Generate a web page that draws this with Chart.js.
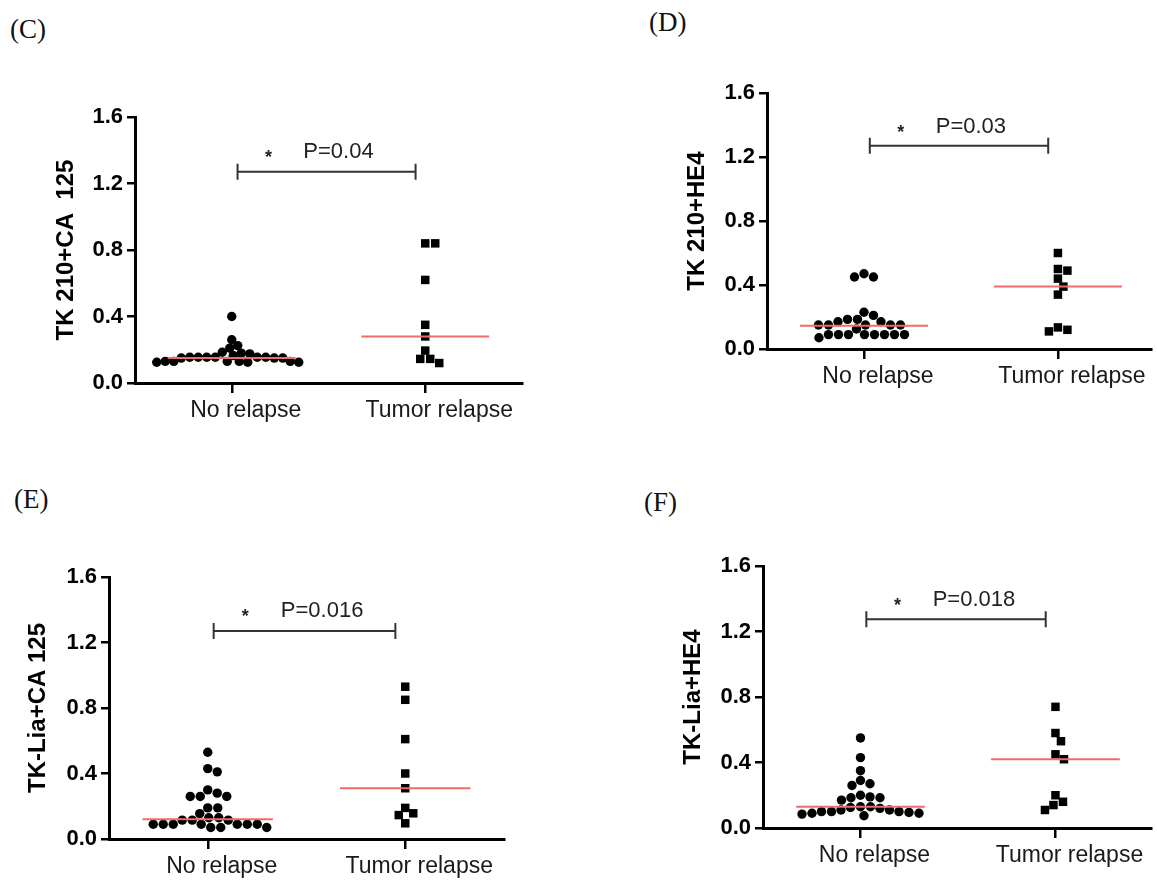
<!DOCTYPE html>
<html>
<head>
<meta charset="utf-8">
<script src="https://cdn.jsdelivr.net/npm/chart.js@4"></script>
<style>
  body { margin: 0; background: #fff; width: 1157px; height: 880px; position: relative; overflow: hidden; }
  canvas { position: absolute; }
  .tag { position: absolute; font: 27px "Liberation Serif", "Times New Roman", serif; color: #111; }
</style>
</head>
<body>
<div class="tag" style="left:10px;top:14px">(C)</div>
<div class="tag" style="left:649px;top:7px">(D)</div>
<div class="tag" style="left:14px;top:484px">(E)</div>
<div class="tag" style="left:644px;top:487px">(F)</div>
<canvas id="C" width="580" height="440" style="left:0;top:0"></canvas>
<canvas id="D" width="577" height="440" style="left:580px;top:0"></canvas>
<canvas id="E" width="580" height="440" style="left:0;top:440px"></canvas>
<canvas id="F" width="577" height="440" style="left:580px;top:440px"></canvas>
<script>
const categories = ['No relapse', 'Tumor relapse'];
const yTicks = [0.0, 0.4, 0.8, 1.2, 1.6];

// (C) TK 210 + CA 125
const cNoRelapse = [0.40, 0.26, 0.225, 0.21, 0.185, 0.18, 0.175, 0.165, 0.155, 0.155, 0.155, 0.155,
  0.155, 0.155, 0.15, 0.15, 0.15, 0.13, 0.13, 0.13, 0.13, 0.13, 0.125, 0.125, 0.125];
const cTumor = [0.84, 0.84, 0.62, 0.35, 0.28, 0.195, 0.145, 0.145, 0.12];
const cMedians = [0.15, 0.28];

// (D) TK 210 + HE4
const dNoRelapse = [0.47, 0.45, 0.45, 0.23, 0.21, 0.185, 0.185, 0.17, 0.17, 0.15, 0.15, 0.15, 0.15,
  0.15, 0.125, 0.09, 0.09, 0.09, 0.09, 0.07, 0.09, 0.09, 0.09, 0.09];
const dTumor = [0.60, 0.50, 0.49, 0.44, 0.39, 0.34, 0.135, 0.12, 0.11];
const dMedians = [0.145, 0.39];

// (E) TK-Lia + CA 125
const eNoRelapse = [0.53, 0.43, 0.41, 0.30, 0.28, 0.26, 0.26, 0.26, 0.19, 0.19, 0.155, 0.13, 0.13,
  0.115, 0.115, 0.115, 0.09, 0.09, 0.09, 0.09, 0.09, 0.09, 0.09, 0.07, 0.07, 0.07];
const eTumor = [0.93, 0.85, 0.61, 0.40, 0.31, 0.19, 0.157, 0.146, 0.096];
const eMedians = [0.12, 0.31];

// (F) TK-Lia + HE4
const fNoRelapse = [0.55, 0.43, 0.35, 0.29, 0.27, 0.26, 0.20, 0.19, 0.185, 0.185, 0.17, 0.13, 0.13,
  0.125, 0.12, 0.11, 0.10, 0.10, 0.095, 0.09, 0.085, 0.075, 0.09, 0.10, 0.11];
const fTumor = [0.74, 0.58, 0.53, 0.45, 0.42, 0.20, 0.16, 0.14, 0.11];
const fMedians = [0.13, 0.42];

const yTitles = ['TK 210+CA  125', 'TK 210+HE4', 'TK-Lia+CA 125', 'TK-Lia+HE4'];
const pLabels = ['P=0.04', 'P=0.03', 'P=0.016', 'P=0.018'];
const bracketLevels = [1.27, 1.27, 1.27, 1.275];
const starLevels = [1.39, 1.39, 1.39, 1.39];

// layout of each panel inside its canvas (pixels)
const panels = [
  { id: 'C', noRel: cNoRelapse, tumor: cTumor, med: cMedians, padL: 52, padT: 117, padR: 58, yW: 83, xH: 57, xMax: 2.5, gap: 8.2 },
  { id: 'D', noRel: dNoRelapse, tumor: dTumor, med: dMedians, padL: 103, padT: 93, padR: 0, yW: 84, xH: 91, xMax: 2.48, gap: 9.6 },
  { id: 'E', noRel: eNoRelapse, tumor: eTumor, med: eMedians, padL: 24, padT: 137, padR: 76, yW: 85, xH: 41, xMax: 2.5, gap: 9.6 },
  { id: 'F', noRel: fNoRelapse, tumor: fTumor, med: fMedians, padL: 99, padT: 126, padR: 0, yW: 84, xH: 52, xMax: 2.49, gap: 9.6 }
];

const FONT = '"Liberation Sans", Arial, sans-serif';

const bracket = {
  id: 'bracket',
  afterDatasetsDraw(chart, args, o) {
    const { ctx, scales: { x, y } } = chart;
    const x1 = x.getPixelForValue(1.03), x2 = x.getPixelForValue(1.95);
    const yb = y.getPixelForValue(o.level);
    ctx.save();
    ctx.strokeStyle = '#333';
    ctx.lineWidth = 2;
    ctx.beginPath();
    ctx.moveTo(x1, yb); ctx.lineTo(x2, yb);
    ctx.moveTo(x1, yb - 8); ctx.lineTo(x1, yb + 8);
    ctx.moveTo(x2, yb - 8); ctx.lineTo(x2, yb + 8);
    ctx.stroke();
    const ys = y.getPixelForValue(o.star);
    ctx.fillStyle = '#222';
    ctx.textBaseline = 'middle';
    ctx.textAlign = 'center';
    ctx.font = 'bold 18px ' + FONT;
    ctx.fillText('*', x.getPixelForValue(1.19), ys + 6);
    ctx.textAlign = 'left';
    ctx.font = '22px ' + FONT;
    ctx.fillText(o.text, x.getPixelForValue(1.37), ys);
    ctx.restore();
  }
};

// spread points sideways so they do not overlap (scatter dot plot)
function swarm(chart) {
  const { x, y } = chart.scales;
  const unit = x.getPixelForValue(2) - x.getPixelForValue(1);
  chart.data.datasets.forEach(ds => {
    if (!ds.swarm) return;
    const placed = [];
    const order = ds.data.map((p, i) => i).sort((a, b) => ds.data[b].y - ds.data[a].y);
    order.forEach(i => {
      const py = y.getPixelForValue(ds.data[i].y);
      let best = 0;
      for (let k = 0; k < 300; k++) {
        const cands = k === 0 ? [0] : [k * 0.5, -k * 0.5];
        const ok = cands.find(dx => placed.every(q => Math.hypot(q.dx - dx, q.py - py) >= ds.gap));
        if (ok !== undefined) { best = ok; break; }
      }
      placed.push({ dx: best, py });
      ds.data[i].x = ds.cat + best / unit;
    });
  });
  chart.update('none');
}

panels.forEach((p, n) => {
  const medLine = (cat, m) => ({
    data: [{ x: cat - 0.33, y: m }, { x: cat + 0.33, y: m }],
    showLine: true, borderColor: '#f26b6b', borderWidth: 2, pointRadius: 0, order: 0
  });
  const chart = new Chart(document.getElementById(p.id), {
    type: 'scatter',
    data: {
      datasets: [
        medLine(1, p.med[0]),
        medLine(2, p.med[1]),
        { data: p.noRel.map(v => ({ x: 1, y: v })), pointStyle: 'circle', pointRadius: 4.7,
          backgroundColor: '#000', borderWidth: 0, order: 1, swarm: true, cat: 1, gap: p.gap },
        { data: p.tumor.map(v => ({ x: 2, y: v })), pointStyle: 'rect', pointRadius: 6,
          backgroundColor: '#000', borderWidth: 0, order: 1, swarm: true, cat: 2, gap: 9.6 }
      ]
    },
    options: {
      responsive: false,
      animation: false,
      events: [],
      layout: { padding: { left: p.padL, top: p.padT, right: p.padR, bottom: 0 } },
      plugins: {
        legend: { display: false },
        tooltip: { enabled: false },
        bracket: { level: bracketLevels[n], star: starLevels[n], text: pLabels[n] }
      },
      scales: {
        x: {
          type: 'linear', min: 0.5, max: p.xMax,
          afterBuildTicks: s => { s.ticks = [{ value: 1 }, { value: 2 }]; },
          afterFit: s => { s.height = p.xH; },
          grid: { drawOnChartArea: false, tickLength: 10, lineWidth: 2.5, color: '#000' },
          border: { color: '#000', width: 3 },
          ticks: {
            callback: v => categories[v - 1], autoSkip: false, maxRotation: 0,
            padding: 4, labelOffset: 14, color: '#1a1a1a', font: { family: FONT, size: 23 }
          }
        },
        y: {
          min: 0, max: 1.6,
          afterBuildTicks: s => { s.ticks = yTicks.map(v => ({ value: v })); },
          afterFit: s => { s.width = p.yW; },
          grid: { drawOnChartArea: false, tickLength: 8, lineWidth: 2.5, color: '#000' },
          border: { color: '#000', width: 3 },
          ticks: {
            callback: v => v.toFixed(1), padding: 4, color: '#000',
            font: { family: FONT, size: 22, weight: 'bold' }
          },
          title: {
            display: true, text: yTitles[n], color: '#000', padding: 0,
            font: { family: FONT, size: 24, weight: 'bold' }
          }
        }
      }
    },
    plugins: [bracket]
  });
  swarm(chart);
});
</script>
</body>
</html>
